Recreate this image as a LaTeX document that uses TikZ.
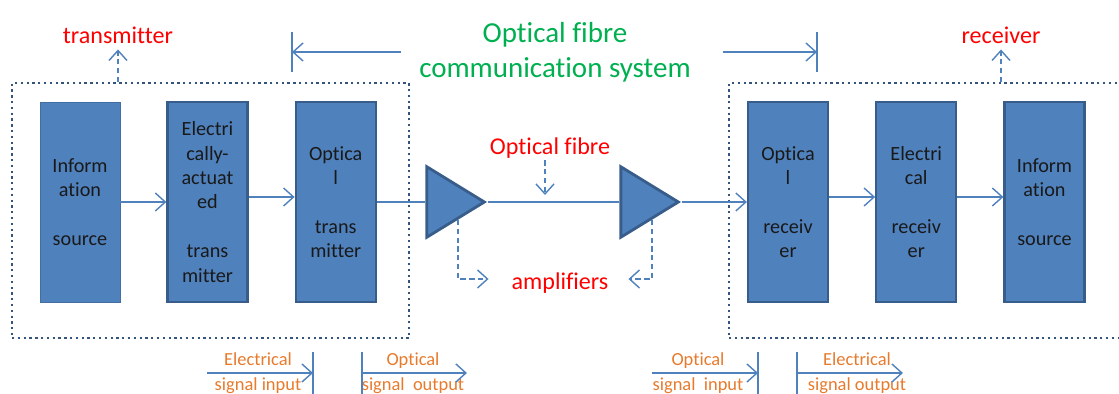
\documentclass[tikz,border=0pt]{standalone}
\usepackage{fontspec}
\setmainfont{Carlito}[Ligatures=NoCommon]
\usepackage{xcolor}
\usetikzlibrary{arrows.meta,positioning,shapes.geometric}

\definecolor{unitblue}{RGB}{79,129,189}
\definecolor{unitedge}{RGB}{56,93,138}
\definecolor{linkblue}{RGB}{79,129,189}
\definecolor{groupedge}{RGB}{52,84,124}
\definecolor{lblred}{RGB}{255,0,0}
\definecolor{lblgreen}{RGB}{0,176,80}
\definecolor{lblorange}{RGB}{232,122,44}

\begin{document}
\begin{tikzpicture}[
   x=0.02cm, y=-0.02cm,
   every node/.style={font=\fontsize{11.5}{13.9}\selectfont},
   unit/.style={draw=unitedge,line width=1.3pt,fill=unitblue,minimum width=1.6cm,
                minimum height=4cm,inner sep=0pt,align=center,text=black!90},
   srcbox/.style={unit,draw=unitblue!85!black,line width=0.4pt},
   amp/.style={draw=unitedge,line width=1.6pt,fill=unitblue,isosceles triangle,
               isosceles triangle stretches,minimum width=1.41cm,minimum height=1.15cm,
               inner sep=0pt},
   group/.style={draw=groupedge,line width=1.3pt,dotted,minimum width=7.94cm,
                 minimum height=5.1cm,inner sep=0pt},
   link/.style={draw=linkblue,line width=0.8pt},
   hint/.style={draw=linkblue,line width=0.8pt,dash pattern=on 3pt off 2pt},
   redlbl/.style={text=lblred,font=\fontsize{13.7}{16}\selectfont,inner sep=1pt},
   title/.style={text=lblgreen,font=\fontsize{16.5}{19.9}\selectfont,align=center},
   sig/.style={text=lblorange,font=\fontsize{10.5}{14}\selectfont,align=center,inner sep=0pt},
   >={Straight Barb[length=0.2cm,width=0.36cm]}
]
\useasboundingbox (0,0) rectangle (1119,394);

% dotted groups
\node[group] (txgroup) at (210.5,210.5) {};
\node[group] (rxgroup) at (927.5,210.5) {};

% transmitter side
\node[srcbox] (src) at (80,202) {Inform\\ation\\~\\source};
\node[unit,right=0.92cm of src] (emod) {Electri\\cally-\\actuat\\ed\\~\\trans\\mitter};
\node[unit,right=0.92cm of emod] (otx) {Optica\\l\\~\\trans\\mitter};

% amplifiers
\node[amp,anchor=apex] (amp1) at (488,202) {};
\node[amp,anchor=apex] (amp2) at (682,202) {};

% receiver side
\node[unit] (orx) at (788,202) {Optica\\l\\~\\receiv\\er};
\node[unit,right=0.92cm of orx] (erx) {Electri\\cal\\~\\receiv\\er};
\node[unit,right=0.92cm of erx] (dst) {Inform\\ation\\~\\source};

% signal path
\draw[link,->] (src.east) -- (emod.west);
\draw[link,->] ([yshift=0.1cm]emod.east) -- ([yshift=0.1cm]otx.west);
\draw[link] (otx.east) -- (amp1.west);
\draw[link] (amp1.apex) -- (amp2.west);
\draw[link,->] (amp2.apex) -- (orx.west);
\draw[link,->] ([yshift=0.1cm]orx.east) -- ([yshift=0.1cm]erx.west);
\draw[link,->] ([yshift=0.1cm]erx.east) -- ([yshift=0.1cm]dst.west);

% red labels
\node[redlbl] (txlbl) at (118,35) {transmitter};
\node[redlbl] (rxlbl) at (1001,35) {receiver};
\node[redlbl] (fibrelbl) at (550,148) {Optical fibre};
\node[redlbl] (amplbl) at (560,283) {amplifiers};
\draw[hint,->] (txgroup.north -| txlbl) -- ([yshift=-0.08cm]txlbl.south);
\draw[hint,->] (rxgroup.north -| rxlbl) -- ([yshift=-0.08cm]rxlbl.south);
\draw[hint,->,shorten >=0.14cm] ([xshift=-0.1cm]fibrelbl.south) -- ([xshift=-0.1cm]fibrelbl.south |- amp1.apex);
\coordinate (amp1foot) at (458,220);
\coordinate (amp2foot) at (652,220);
\draw[hint,->] (amp1foot) |- ([xshift=-0.42cm,yshift=0.08cm]amplbl.west);
\draw[hint,->] (amp2foot) |- ([xshift=0.36cm,yshift=0.08cm]amplbl.east);

% system title
\node[title] (systitle) at (555,52) {Optical fibre\\communication system};
\coordinate (sysL) at (292,52);
\coordinate (sysR) at (817,52);
\draw[link,->] ([xshift=-0.24cm]systitle.west |- sysL) -- (sysL);
\draw[link,->] ([xshift=0.52cm]systitle.east |- sysR) -- (sysR);
\draw[link] ([yshift=0.4cm]sysL) -- ([yshift=-0.4cm]sysL);
\draw[link] ([yshift=0.4cm]sysR) -- ([yshift=-0.4cm]sysR);

% signal types
\node[sig] (ein) at (258,373) {Electrical\\signal input};
\node[sig] (oout) at (413,373) {Optical\\signal\ \ output};
\node[sig] (oin) at (698,373) {Optical\\signal\ \ input};
\node[sig] (eout) at (857,373) {Electrical\\signal output};
\coordinate (einEnd) at (313,373);
\coordinate (ooutBeg) at (362,373);
\coordinate (oinEnd) at (758,373);
\coordinate (eoutBeg) at (797,373);
\draw[link,->] ([xshift=-2.12cm]einEnd) -- (einEnd);
\draw[link,->] (ooutBeg) -- ([xshift=2.1cm]ooutBeg);
\draw[link,->] ([xshift=-2.12cm]oinEnd) -- (oinEnd);
\draw[link,->] (eoutBeg) -- ([xshift=2.12cm]eoutBeg);
\draw[link] ([yshift=0.42cm]einEnd) -- ([yshift=-0.6cm]einEnd);
\draw[link] ([yshift=0.42cm]ooutBeg) -- ([yshift=-0.6cm]ooutBeg);
\draw[link] ([yshift=0.42cm]oinEnd) -- ([yshift=-0.6cm]oinEnd);
\draw[link] ([yshift=0.42cm]eoutBeg) -- ([yshift=-0.6cm]eoutBeg);
\end{tikzpicture}
\end{document}
